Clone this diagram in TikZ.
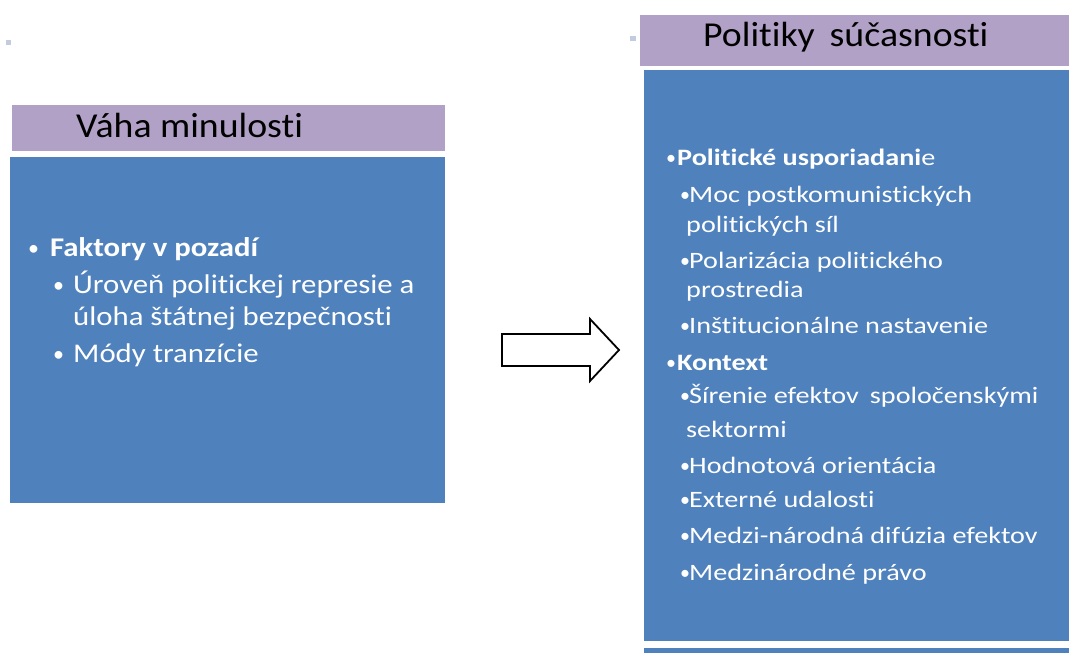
\documentclass[tikz,border=0pt]{standalone}
\usepackage{fontspec}
\setmainfont{Carlito}[Ligatures=CommonOff]
\definecolor{hdr}{HTML}{B2A1C7}
\definecolor{bodyblue}{HTML}{4F81BD}
\definecolor{dotc}{HTML}{C3CBE0}
\newcommand{\hx}[1]{\scalebox{1.08}[1]{#1}}
\newcommand{\lx}[1]{\scalebox{1.14}[1]{#1}}
\newcommand{\rx}[1]{\scalebox{1.2}[1]{#1}}
\begin{document}
\begin{tikzpicture}[x=1pt,y=-1pt,
  hdrtext/.style={anchor=base west,inner sep=0pt,font=\fontsize{35}{40}\selectfont,text=black},
  ltext/.style={anchor=base west,inner sep=0pt,font=\fontsize{27}{32}\selectfont,text=white},
  rtext/.style={anchor=base west,inner sep=0pt,font=\fontsize{23.5}{28}\selectfont,text=white},
  lbul/.style={anchor=base west,inner sep=0pt,text=white,font=\fontsize{22}{26}\selectfont},
  rbul/.style={anchor=base west,inner sep=0pt,text=white,font=\fontsize{20}{24}\selectfont}]
\useasboundingbox (0,0) rectangle (1069,653);
% decorative dots
\fill[dotc] (6,40) rectangle (11,45);
\fill[dotc] (630,36) rectangle (636,41);
% left block
\fill[hdr] (12,105) rectangle (445,151);
\fill[bodyblue] (10,157) rectangle (445,503);
\node[hdrtext] (lh) at (76,137) {\hx{Váha minulosti}};
\node[lbul] (lb1) at (28,255) {•};
\node[ltext] (l1) at (50,256) {\lx{\textbf{Faktory v pozadí}}};
\node[lbul] (lb2) at (53,292) {•};
\node[ltext] (l2) at (73,293) {\lx{Úroveň politickej represie a}};
\node[ltext] (l3) at (73,325) {\lx{úloha štátnej bezpečnosti}};
\node[lbul] (lb3) at (53,361) {•};
\node[ltext] (l4) at (73,362) {\lx{Módy tranzície}};
% right block
\fill[hdr] (640,15) rectangle (1069,66);
\fill[bodyblue] (644,70) rectangle (1069,641);
\fill[bodyblue] (644,648) rectangle (1069,653);
\node[hdrtext] (rh) at (703,46) {\hx{Politiky\, súčasnosti}};
\node[rbul] (rb1) at (666,164) {•};
\node[rtext] (r1) at (677,165) {\rx{\textbf{Politické usporiadani}e}};
\node[rbul] (rb2) at (680,201) {•};
\node[rtext] (r2) at (689,202) {\rx{Moc postkomunistických}};
\node[rtext] (r3) at (686,232) {\rx{politických síl}};
\node[rbul] (rb3) at (680,267) {•};
\node[rtext] (r4) at (689,268) {\rx{Polarizácia politického}};
\node[rtext] (r5) at (686,297) {\rx{prostredia}};
\node[rbul] (rb4) at (680,332) {•};
\node[rtext] (r6) at (689,333) {\rx{Inštitucionálne nastavenie}};
\node[rbul] (rb5) at (666,369) {•};
\node[rtext] (r7) at (677,370) {\rx{\textbf{Kontext}}};
\node[rbul] (rb6) at (680,402) {•};
\node[rtext] (r8) at (689,403) {\rx{Šírenie efektov\, spoločenskými}};
\node[rtext] (r9) at (686,437) {\rx{sektormi}};
\node[rbul] (rb7) at (680,472) {•};
\node[rtext] (r10) at (689,473) {\rx{Hodnotová orientácia}};
\node[rbul] (rb8) at (680,506) {•};
\node[rtext] (r11) at (689,507) {\rx{Externé udalosti}};
\node[rbul] (rb9) at (680,542) {•};
\node[rtext] (r12) at (689,543) {\rx{Medzi-národná difúzia efektov}};
\node[rbul] (rb10) at (680,579) {•};
\node[rtext] (r13) at (689,580) {\rx{Medzinárodné právo}};
% block arrow
\draw[black,line width=1.8pt,fill=white,line join=miter]
  (502,334) -- (590,334) -- (590,319) -- (619,350) -- (590,381) -- (590,366) -- (502,366) -- cycle;
\end{tikzpicture}
\end{document}
